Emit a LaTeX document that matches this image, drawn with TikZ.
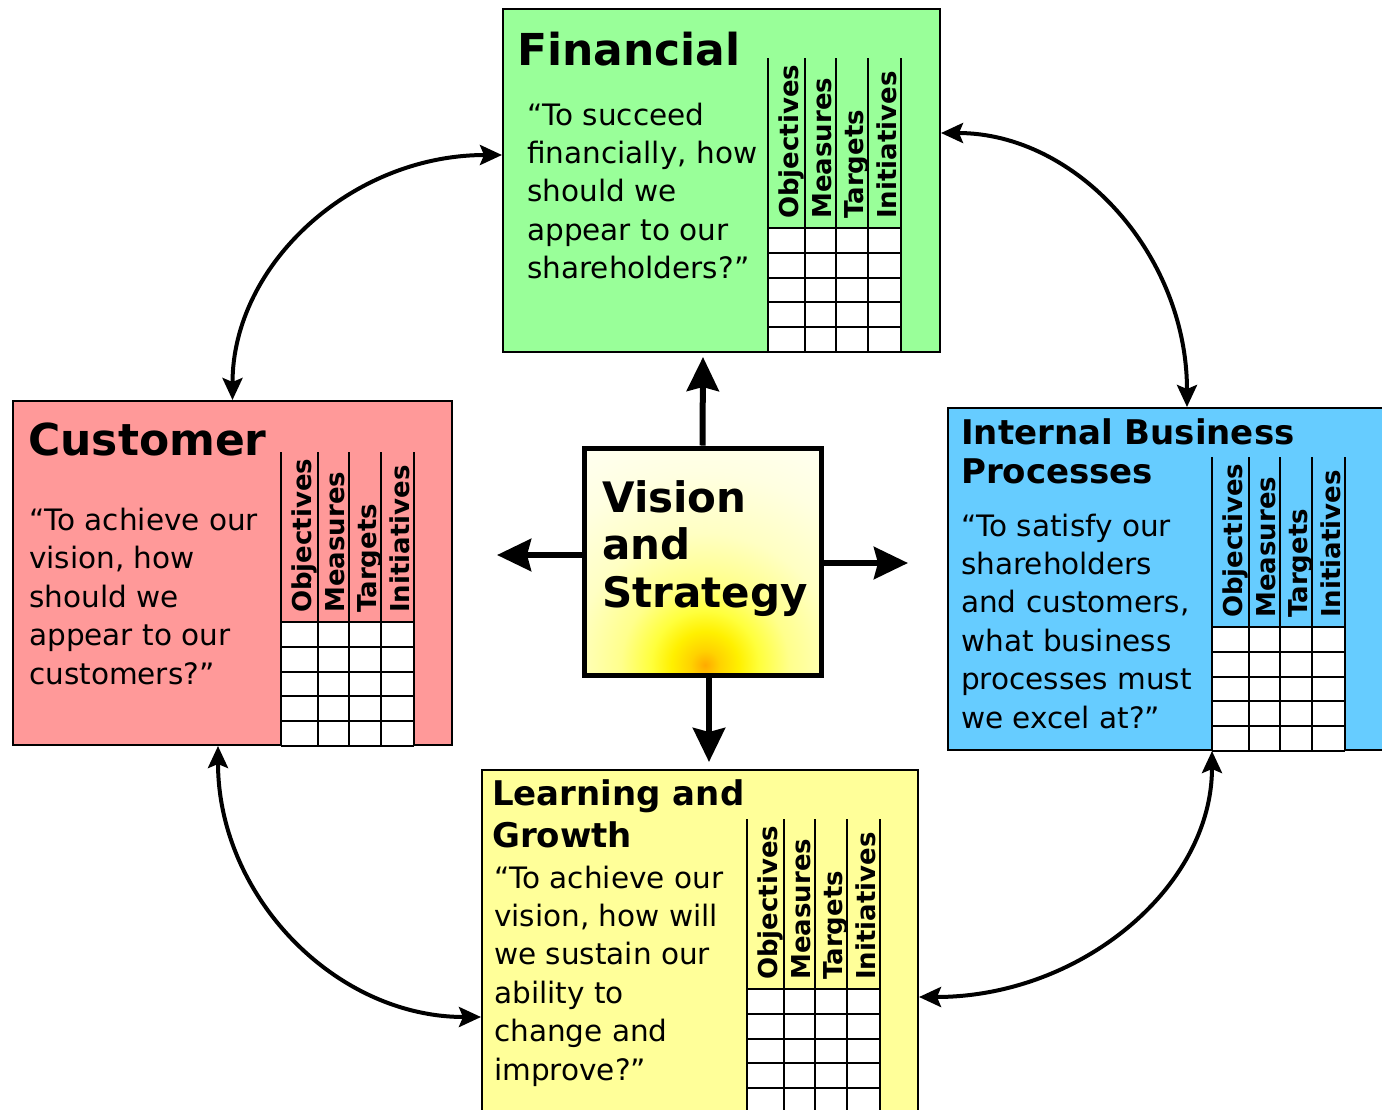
\documentclass[tikz,border=0pt]{standalone}
\usepackage{fontspec}
\setmainfont{DejaVu Sans}
\usetikzlibrary{arrows.meta}
\definecolor{fincol}{RGB}{153,255,153}
\definecolor{cuscol}{RGB}{255,153,153}
\definecolor{ibpcol}{RGB}{102,204,255}
\definecolor{lgcol}{RGB}{255,255,153}
\definecolor{vcore}{RGB}{255,170,0}
\definecolor{vmid}{RGB}{255,210,0}
\definecolor{vyel}{RGB}{255,240,0}
\definecolor{vyelb}{RGB}{255,255,60}
\definecolor{vpale}{RGB}{255,255,140}
\definecolor{vpaler}{RGB}{255,255,195}
\definecolor{vwhite}{RGB}{255,255,225}
\definecolor{vedge}{RGB}{255,255,245}
\pgfdeclareradialshading{visionshade}{\pgfpoint{0bp}{0bp}}{color(0bp)=(vcore); color(1.2bp)=(vmid); color(2.8bp)=(vyel); color(4.5bp)=(vyelb); color(7bp)=(vpale); color(11bp)=(vpaler); color(16bp)=(vwhite); color(22bp)=(vedge); color(50bp)=(vedge)}
\newcommand\scorecard[3]{%
\begin{scope}[shift={(#1,#2)}]
 \fill[white] (0,0) rectangle (133,124);
 \foreach \k in {0,...,5} \draw[gridline] (0,\k*24.8) -- (133,\k*24.8);
 \foreach \xx in {0,37,68,100,133} \draw[gridline] (\xx,-170) -- (\xx,124);
 \node[hdr] (#3o) at (30,-9) {Objectives};
 \node[hdr] (#3m) at (63,-9) {Measures};
 \node[hdr] (#3t) at (95,-9) {Targets};
 \node[hdr] (#3i) at (128,-9) {Initiatives};
\end{scope}}
\begin{document}
\begin{tikzpicture}[x=1pt,y=-1pt,
  box/.style={draw=black, line width=2pt, inner sep=0pt, anchor=center},
  gridline/.style={line width=2pt},
  hdr/.style={font=\fontsize{26}{26}\selectfont\bfseries, rotate=90, anchor=base west, inner sep=0pt},
  ttl/.style={font=\fontsize{44}{50}\selectfont\bfseries, anchor=base west, inner sep=0pt, align=left},
  ttlsm/.style={font=\fontsize{34}{39}\selectfont\bfseries, anchor=base west, inner sep=0pt, align=left},
  body/.style={font=\fontsize{29.5}{38.4}\selectfont, anchor=base west, inner sep=0pt, align=left},
  conn/.style={line width=4pt, {Stealth[length=22pt,width=20pt,inset=4pt]}-{Stealth[length=22pt,width=20pt,inset=4pt]}},
  ray/.style={line width=6pt, -{Stealth[length=34pt,width=32pt,inset=4pt]}}]
\useasboundingbox (0,0) rectangle (1382,1109);
\clip (0,0) rectangle (1382,1109);
\fill[white] (0,0) rectangle (1382,1109);
% boxes
\node[box, fill=fincol, minimum width=437pt, minimum height=343pt] (fin) at (721.5,180.5) {};
\node[box, fill=cuscol, minimum width=439pt, minimum height=344pt] (cus) at (232.5,573) {};
\node[box, fill=ibpcol, minimum width=442pt, minimum height=342pt] (ibp) at (1169,579) {};
\node[box, fill=lgcol, minimum width=436pt, minimum height=345pt] (lg) at (700,942.5) {};
% tables
\scorecard{768}{228}{fin}
\scorecard{281}{622}{cus}
\scorecard{1212}{627}{ibp}
\scorecard{747}{989}{lg}
% titles (base anchor = baseline of the last line)
\node[ttl] (finT) at (517,65) {Financial};
\node[ttl] (cusT) at (28,455) {Customer};
\node[ttlsm] (ibpT) at (961,483) {Internal Business\\Processes};
\node[ttlsm, font=\fontsize{34}{42}\selectfont\bfseries] (lgT) at (492,847) {Learning and\\Growth};
% body texts
\node[body] (finB) at (527,278.6) {“To succeed\\financially, how\\should we\\appear to our\\shareholders?”};
\node[body] (cusB) at (29,684) {“To achieve our\\vision, how\\should we\\appear to our\\customers?”};
\node[body] (ibpB) at (961,728) {“To satisfy our\\shareholders\\and customers,\\what business\\processes must\\we excel at?”};
\node[body] (lgB) at (494,1080) {“To achieve our\\vision, how will\\we sustain our\\ability to\\change and\\improve?”};
% vision
\begin{scope}
 \clip (584,448) rectangle (821,675);
 \shade[shading=visionshade] (405,365) rectangle (1005,965);
\end{scope}
\coordinate (vUp) at (703,357);
\coordinate (vDn) at (709,762);
\coordinate (vLf) at (497,555);
\coordinate (vRt) at (908,563);
\node[box, line width=5pt, minimum width=237pt, minimum height=227pt] (vis) at (702.5,561.5) {};
\draw[ray] (vis.north) -- (vUp);
\draw[ray] ([xshift=6.5pt]vis.south) -- (vDn);
\draw[ray] ([yshift=6.5pt]vis.west) -- (vLf);
\draw[ray] ([yshift=-1.5pt]vis.east) -- (vRt);
\node[font=\fontsize{42}{47.5}\selectfont\bfseries, anchor=base west, inner sep=0pt, align=left] (visT) at (602,607) {Vision\\and\\Strategy};
% curved connectors
\draw[conn] ([yshift=25.5pt]fin.west) .. controls +(-150,0) and +(0,-136) .. (cus.north);
\draw[conn] ([yshift=47.5pt]fin.east) .. controls +(136,0) and +(0,-152) .. ([xshift=18pt]ibp.north);
\draw[conn] ([xshift=-14.5pt]cus.south) .. controls +(0,150) and +(-146,0) .. ([yshift=-74.5pt]lg.west);
\draw[conn] ([xshift=43pt]ibp.south) .. controls +(0,136) and +(162,0) .. ([yshift=-54.5pt]lg.east);
\end{tikzpicture}
\end{document}
